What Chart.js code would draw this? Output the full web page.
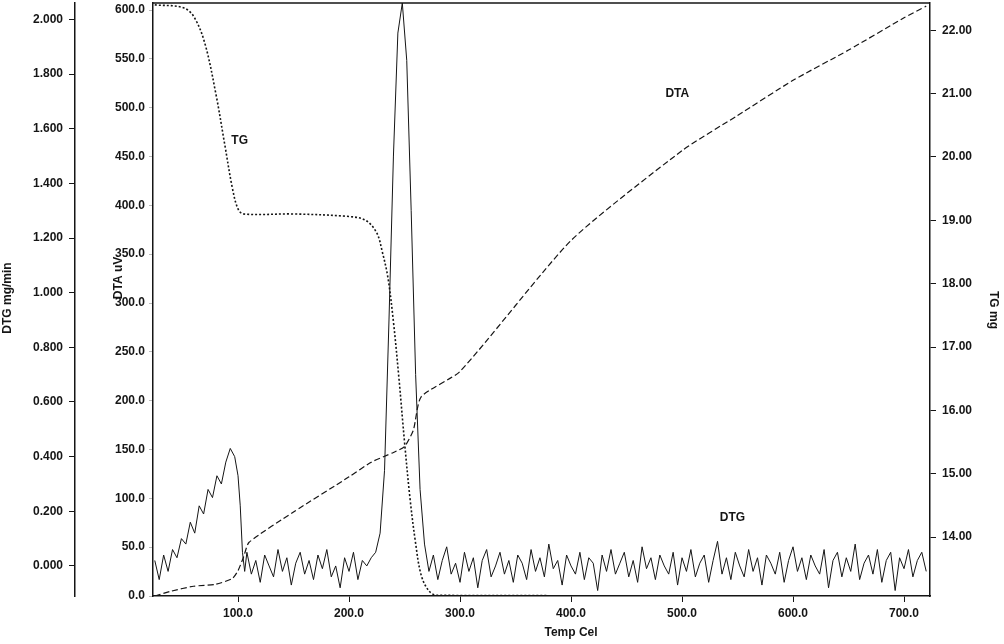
<!DOCTYPE html>
<html>
<head>
<meta charset="utf-8">
<script src="https://cdn.jsdelivr.net/npm/chart.js@4.4.1/dist/chart.umd.min.js"></script>
<style>
  html, body { margin: 0; padding: 0; background: #fff; }
  #wrap { width: 1004px; height: 644px; position: relative; }
</style>
</head>
<body>
<div id="wrap"><canvas id="c"></canvas></div>
<script>
// ── Data ──
const xTicks   = [100, 200, 300, 400, 500, 600, 700];
const dtaTicks = [0, 50, 100, 150, 200, 250, 300, 350, 400, 450, 500, 550, 600];
const tgTicks  = [14, 15, 16, 17, 18, 19, 20, 21, 22];
const dtgTicks = [0, 0.2, 0.4, 0.6, 0.8, 1.0, 1.2, 1.4, 1.6, 1.8, 2.0];

// TG (mg) vs temperature
const tgTemp = [25, 50, 60, 70, 80, 88, 95, 100, 105, 150, 200, 215, 225, 230, 235, 240, 245, 250, 255, 260, 265, 272, 280, 720];
const tgVal  = [22.40, 22.36, 22.22, 21.80, 21.00, 20.20, 19.50, 19.18, 19.10, 19.10, 19.06, 19.00, 18.80, 18.50, 18.10, 17.40, 16.50, 15.50, 14.60, 13.90, 13.40, 13.15, 13.08, 13.07];

// DTA (uV) vs temperature
const dtaTemp = [25, 40, 60, 80, 95, 100, 105, 110, 150, 200, 220, 240, 250, 258, 265, 300, 400, 500, 550, 600, 650, 700, 720];
const dtaVal  = [0, 5, 10, 12, 18, 26, 40, 55, 86, 122, 137, 147, 153, 170, 204, 230, 364, 456, 492, 528, 559, 592, 604];

// DTG (mg/min) vs temperature, four segments
const dtgRiseTemp = [25, 29, 33, 37, 41, 45, 49, 53, 57, 61, 65, 69, 73, 77, 81, 85, 89, 93, 97, 100, 102, 104, 106];
const dtgRise     = [0.02, -0.05, 0.04, -0.02, 0.06, 0.03, 0.10, 0.08, 0.16, 0.12, 0.22, 0.19, 0.28, 0.25, 0.33, 0.30, 0.38, 0.43, 0.40, 0.33, 0.22, 0.05, -0.02];
const dtgFlatStart = 108, dtgStep = 4;
const dtgFlat = [0.05, -0.03, 0.02, -0.06, 0.04, 0.0, -0.04, 0.06, -0.02, 0.03, -0.07, 0.01, 0.05, -0.03, 0.02,
                 -0.05, 0.04, -0.01, 0.06, -0.04, 0.0, -0.08, 0.03, -0.02, 0.05, -0.05, 0.02, 0.0, 0.03];
const dtgPeakTemp = [224, 228, 232, 236, 240, 244, 248, 252, 256, 260, 264, 268, 272];
const dtgPeak     = [0.05, 0.12, 0.35, 0.90, 1.50, 1.95, 2.06, 1.85, 1.30, 0.70, 0.28, 0.08, -0.02];
const dtgTailStart = 276;
const dtgTail = [
  0.04, -0.05, 0.02, 0.07, -0.03, 0.01, -0.06, 0.05, -0.02, 0.03, -0.08, 0.02, 0.06, -0.04,
  0.0, 0.05, -0.03, 0.02, -0.06, 0.04, 0.01, -0.05, 0.06, -0.02, 0.03, -0.04, 0.08, -0.01,
  0.02, -0.07, 0.04, 0.0, -0.03, 0.05, -0.05, 0.03, 0.01, -0.09, 0.04, -0.02, 0.06, -0.03,
  0.01, 0.05, -0.04, 0.02, -0.06, 0.07, -0.01, 0.03, -0.05, 0.04, 0.0, -0.03, 0.05, -0.07,
  0.03, -0.02, 0.06, -0.04, 0.01, 0.04, -0.06, 0.02, 0.09, -0.03, 0.03, -0.05, 0.05, 0.0,
  -0.04, 0.06, -0.02, 0.03, -0.07, 0.04, 0.01, -0.03, 0.05, -0.06, 0.02, 0.07, -0.02, 0.03,
  -0.05, 0.04, 0.0, -0.03, 0.06, -0.08, 0.02, 0.05, -0.04, 0.03, -0.02, 0.08, -0.05, 0.01,
  0.04, -0.03, 0.06, -0.06, 0.02, 0.05, -0.09, 0.03, -0.01, 0.06, -0.04, 0.02, 0.05, -0.02
];

const pts = (xs, ys) => xs.map((x, i) => ({ x, y: ys[i] }));
const dtgPoints = [
  ...pts(dtgRiseTemp, dtgRise),
  ...dtgFlat.map((y, i) => ({ x: dtgFlatStart + i * dtgStep, y })),
  ...pts(dtgPeakTemp, dtgPeak),
  ...dtgTail.map((y, i) => ({ x: dtgTailStart + i * dtgStep, y })),
];

const INK = '#151515';
const FONT = { family: 'Liberation Sans, Arial, sans-serif', size: 12, weight: 'bold' };

// fixed widths, and no extra room for half tick labels
function fixWidth(w) {
  return (scale) => { scale.width = w; scale.paddingTop = 0; scale.paddingBottom = 0; };
}

// Axis titles and curve labels drawn as text
const annotations = {
  id: 'annotations',
  afterDraw(chart) {
    const { ctx, chartArea, scales } = chart;
    ctx.save();
    ctx.fillStyle = INK;
    ctx.strokeStyle = INK;
    ctx.font = 'bold 12px Liberation Sans, Arial, sans-serif';
    // top frame line
    ctx.lineWidth = 1.5;
    ctx.beginPath();
    ctx.moveTo(chartArea.left, chartArea.top);
    ctx.lineTo(chartArea.right, chartArea.top);
    ctx.stroke();
    // curve labels
    ctx.textAlign = 'left';
    ctx.textBaseline = 'middle';
    ctx.fillText('TG', scales.x.getPixelForValue(94), scales.tg.getPixelForValue(20.25));
    ctx.fillText('DTA', scales.x.getPixelForValue(485), scales.tg.getPixelForValue(21.0));
    ctx.fillText('DTG', scales.x.getPixelForValue(534), scales.tg.getPixelForValue(14.3));
    // axis titles
    ctx.textAlign = 'center';
    ctx.fillText('Temp Cel', scales.x.getPixelForValue(400), 633);
    const rot = (text, x, y, a) => {
      ctx.save(); ctx.translate(x, y); ctx.rotate(a); ctx.fillText(text, 0, 0); ctx.restore();
    };
    rot('DTG mg/min', 8, 298, -Math.PI / 2);
    rot('DTA uV', 119, 278, -Math.PI / 2);
    rot('TG mg', 993, 310, Math.PI / 2);
    ctx.restore();
  }
};

new Chart(document.getElementById('c'), {
  type: 'line',
  data: {
    datasets: [
      { label: 'DTG', data: dtgPoints, yAxisID: 'dtg', borderColor: INK, borderWidth: 1, pointRadius: 0, tension: 0 },
      { label: 'DTA', data: pts(dtaTemp, dtaVal), yAxisID: 'dta', borderColor: INK, borderWidth: 1.2, borderDash: [6, 3], pointRadius: 0, tension: 0.2 },
      { label: 'TG', data: pts(tgTemp, tgVal), yAxisID: 'tg', borderColor: INK, borderWidth: 1.6, borderDash: [2, 2], pointRadius: 0, tension: 0.35 },
    ],
  },
  options: {
    responsive: true,
    maintainAspectRatio: false,
    animation: false,
    layout: { padding: { top: 3, left: 0, right: 0, bottom: 0 } },
    plugins: { legend: { display: false }, tooltip: { enabled: false } },
    scales: {
      x: {
        type: 'linear', min: 23.4, max: 723.4,
        afterBuildTicks: (s) => { s.ticks = xTicks.map((v) => ({ value: v })); },
        afterFit: (s) => { s.height = 48; s.paddingLeft = 0; s.paddingRight = 0; },
        ticks: { color: INK, font: FONT, padding: 4, callback: (v) => v.toFixed(1) },
        grid: { drawOnChartArea: false, tickLength: 6, color: INK },
        border: { color: INK, width: 1.5 },
      },
      dtg: {
        position: 'left', weight: 2, min: -0.11, max: 2.06,
        afterBuildTicks: (s) => { s.ticks = dtgTicks.map((v) => ({ value: v })); },
        afterFit: fixWidth(75),
        ticks: { color: INK, font: FONT, padding: 6, callback: (v) => v.toFixed(3) },
        grid: { drawOnChartArea: false, tickLength: 6, color: INK },
        border: { color: INK, width: 1.5 },
      },
      dta: {
        position: 'left', weight: 1, min: 0, max: 607.2,
        afterBuildTicks: (s) => { s.ticks = dtaTicks.map((v) => ({ value: v })); },
        afterFit: fixWidth(78),
        ticks: { color: INK, font: FONT, padding: 4, callback: (v) => v.toFixed(1) },
        grid: { drawOnChartArea: false, tickLength: 4, color: '#bbb' },
        border: { color: INK, width: 1.5 },
      },
      tg: {
        position: 'right', min: 13.07, max: 22.43,
        afterBuildTicks: (s) => { s.ticks = tgTicks.map((v) => ({ value: v })); },
        afterFit: fixWidth(74),
        ticks: { color: INK, font: FONT, padding: 6, callback: (v) => v.toFixed(2) },
        grid: { drawOnChartArea: false, tickLength: 6, color: INK },
        border: { color: INK, width: 1.5 },
      },
    },
  },
  plugins: [annotations],
});
</script>
</body>
</html>
